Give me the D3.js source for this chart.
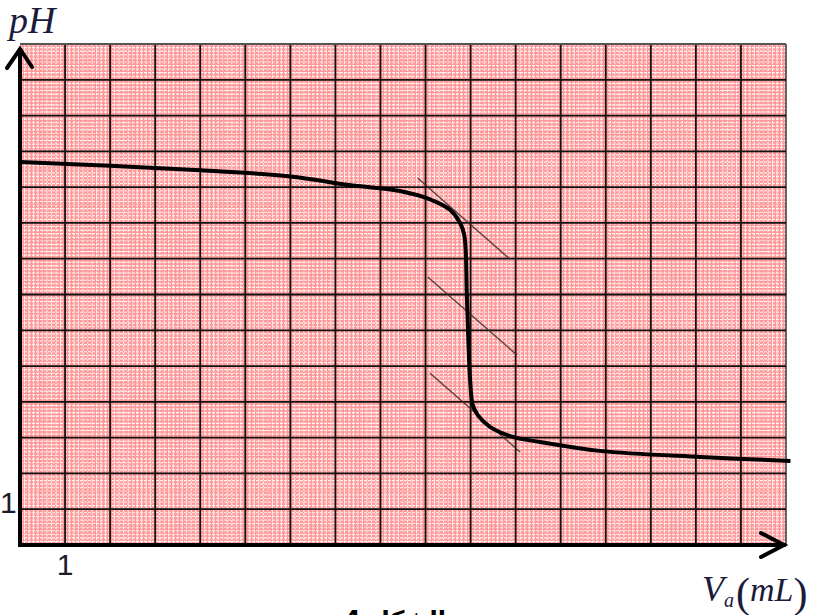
<!DOCTYPE html>
<meta charset="utf-8">
<style>
body { margin: 0; background: #fff; }
svg { display: block; }
</style>
<script src="https://cdnjs.cloudflare.com/ajax/libs/d3/7.8.5/d3.min.js"></script>
<body></body>
<script>

var width = 822;
var height = 615;

// titration curve (V in mL, pH)
var volume = [0, 2, 4, 6, 7.3, 8.4, 9.1, 9.55, 9.76, 9.86, 9.92, 9.99, 10.05, 10.16, 10.43, 10.94, 11.54, 12.87, 15.1, 17.1];
var pH     = [10.7, 10.6, 10.47, 10.3, 10.06, 9.9, 9.66, 9.36, 9.02, 8.66, 6.84, 4.6, 3.9, 3.63, 3.3, 3.02, 2.88, 2.63, 2.46, 2.35];

// the three parallel tangents (start / end)
var tangentV  = [[8.83, 10.87], [9.05, 11.03], [9.1, 11.1]];
var tangentPH = [[10.25, 7.99], [7.49, 5.31], [4.8, 2.6]];

var xMax = 17, yMax = 14;
var xLabels = ['1'];
var yLabels = ['1'];

var x = d3.scaleLinear().domain([0, xMax]).range([20, 786]);
var y = d3.scaleLinear().domain([0, yMax]).range([545, 44]);

var svg = d3.select('body').append('svg')
	.attr('width', width)
	.attr('height', height);

//paper
svg.append('rect')
	.attr('x', x(0)).attr('y', y(yMax))
	.attr('width', x(xMax) - x(0)).attr('height', y(0) - y(yMax))
	.attr('fill', '#ff9898');

//fine millimetre lines
var minorX = d3.range(0, xMax * 10 + 1).map(d => d / 10);
var minorY = d3.range(0, yMax * 10 + 1).map(d => d / 10);
svg.append('g').selectAll('line')
	.data(minorX).enter().append('line')
	.attr('x1', d => x(d)).attr('x2', d => x(d))
	.attr('y1', y(yMax)).attr('y2', y(0))
	.attr('stroke', '#fff')
	.attr('stroke-opacity', (d, i) => i % 5 === 0 ? 0.5 : 0.85)
	.attr('stroke-dasharray', '2.5,1')
	.attr('stroke-width', 1.1);
svg.append('g').selectAll('line')
	.data(minorY).enter().append('line')
	.attr('y1', d => y(d)).attr('y2', d => y(d))
	.attr('x1', x(0)).attr('x2', x(xMax))
	.attr('stroke', '#fff')
	.attr('stroke-opacity', (d, i) => i % 5 === 0 ? 0.5 : 0.85)
	.attr('stroke-dasharray', '3,1')
	.attr('stroke-width', 1.1);

//major grid
svg.append('g').selectAll('line')
	.data(d3.range(1, xMax + 1)).enter().append('line')
	.attr('x1', d => x(d)).attr('x2', d => x(d))
	.attr('y1', y(yMax)).attr('y2', y(0))
	.attr('stroke', d => d === xMax ? '#555' : '#111')
	.attr('stroke-width', 1.8);
svg.append('g').selectAll('line')
	.data(d3.range(1, yMax + 1)).enter().append('line')
	.attr('y1', d => y(d)).attr('y2', d => y(d))
	.attr('x1', x(0)).attr('x2', x(xMax))
	.attr('stroke', d => d === yMax ? '#555' : '#111')
	.attr('stroke-width', 1.8);

//axes with arrows
svg.append('line')
	.attr('x1', x(0)).attr('x2', x(0))
	.attr('y1', y(0) + 2).attr('y2', y(yMax) + 4)
	.attr('stroke', '#000').attr('stroke-width', 4);
svg.append('line')
	.attr('x1', x(0) - 2).attr('x2', x(xMax))
	.attr('y1', y(0)).attr('y2', y(0))
	.attr('stroke', '#000').attr('stroke-width', 4);
svg.append('path')
	.attr('d', 'M' + (x(0) - 13) + ',' + (y(yMax) + 24) + 'L' + x(0) + ',' + (y(yMax) + 5) + 'L' + (x(0) + 12) + ',' + (y(yMax) + 23))
	.attr('fill', 'none').attr('stroke', '#000').attr('stroke-width', 4)
	.attr('stroke-linecap', 'round');
svg.append('path')
	.attr('d', 'M' + (x(xMax) - 25) + ',' + (y(0) - 12) + 'L' + (x(xMax) - 2) + ',' + y(0) + 'L' + (x(xMax) - 25) + ',' + (y(0) + 12))
	.attr('fill', 'none').attr('stroke', '#000').attr('stroke-width', 4)
	.attr('stroke-linecap', 'round');

//tangents
svg.append('g').selectAll('line')
	.data(tangentV).enter().append('line')
	.attr('x1', d => x(d[0])).attr('x2', d => x(d[1]))
	.attr('y1', (d, i) => y(tangentPH[i][0])).attr('y2', (d, i) => y(tangentPH[i][1]))
	.attr('stroke', '#3a2a2a').attr('stroke-width', 1.4).attr('stroke-opacity', 0.85);

//curve
var line = d3.line()
	.x((d, i) => x(volume[i]))
	.y(d => y(d))
	.curve(d3.curveCatmullRom.alpha(0.5));
svg.append('path')
	.datum(pH)
	.attr('d', line)
	.attr('fill', 'none')
	.attr('stroke', '#000')
	.attr('stroke-width', 4)
	.attr('stroke-linejoin', 'round');

//labels
svg.append('text')
	.attr('x', 9).attr('y', 33)
	.attr('font-family', 'Liberation Serif').attr('font-style', 'italic')
	.attr('font-size', 38).attr('fill', '#1b1b3a')
	.text('pH');

svg.append('text')
	.attr('x', x(1)).attr('y', 575)
	.attr('text-anchor', 'middle')
	.attr('font-family', 'Liberation Sans').attr('font-size', 30).attr('fill', '#1b1b2a')
	.text(xLabels[0]);
svg.append('text')
	.attr('x', 0).attr('y', y(1) + 4)
	.attr('font-family', 'Liberation Sans').attr('font-size', 30).attr('fill', '#1b1b2a')
	.text(yLabels[0]);

var vl = svg.append('text')
	.attr('x', 702).attr('y', 601)
	.attr('font-family', 'Liberation Serif').attr('fill', '#1b1b3a');
vl.append('tspan').attr('font-style', 'italic').attr('font-size', 36).text('V');
vl.append('tspan').attr('font-style', 'italic').attr('font-size', 20).attr('dy', 6).attr('dx', 0).text('a');
vl.append('tspan').attr('font-size', 42).attr('dy', 0).attr('dx', 2).text('(');
vl.append('tspan').attr('font-style', 'italic').attr('font-size', 34).attr('dy', -6).text('mL');
vl.append('tspan').attr('font-size', 42).attr('dy', 6).text(')');

svg.append('text')
	.attr('x', 395).attr('y', 628)
	.attr('text-anchor', 'middle')
	.attr('font-family', 'DejaVu Sans').attr('font-weight', 'bold')
	.attr('font-size', 24).attr('fill', '#000')
	.text('الشكل 4');

</script>
